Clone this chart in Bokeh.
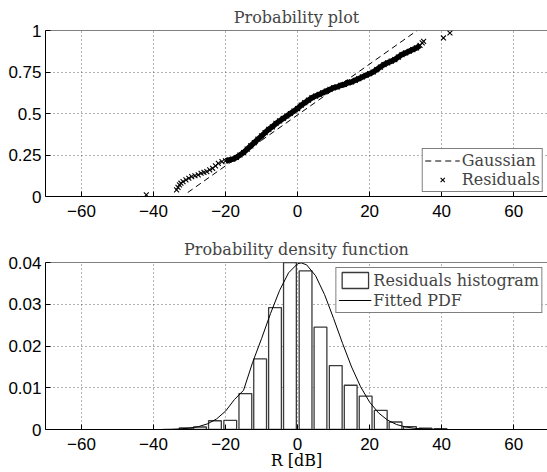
from bokeh.plotting import figure
from bokeh.models import FixedTicker, CustomJSTickFormatter, Span, Range1d
from bokeh.layouts import column
from bokeh.embed import file_html
from bokeh.resources import INLINE

# ---------------- data ----------------
# Probability plot: sorted residuals (dB) vs. empirical probability
res_x = [-42.0, -33.6, -33.2, -32.8, -32.4, -31.8, -31.0, -30.2, -29.4, -28.5,
         -27.6, -26.8, -26.0, -25.2, -24.4, -23.6, -22.8, -22.0, -21.0, -20.0,
         -19.0, -18.0, -17.0, -16.0, -15.0, -14.0, -13.0, -12.0, -11.0, -10.0,
         -9.0, -8.0, -7.0, -6.0, -5.0, -4.0, -3.0, -2.0, -1.0, 0.0,
         1.0, 2.0, 3.0, 4.0, 5.0, 6.0, 7.0, 8.0, 9.0, 10.0,
         11.0, 12.0, 13.0, 14.0, 15.0, 16.0, 17.0, 18.0, 19.0, 20.0,
         21.0, 22.0, 23.0, 24.0, 25.0, 26.0, 27.0, 28.0, 29.0, 30.0,
         31.0, 32.0, 33.0, 34.0, 34.6, 35.0, 40.5, 42.3]
res_y = [0.010, 0.040, 0.055, 0.070, 0.080, 0.090, 0.100, 0.110, 0.120, 0.125,
         0.130, 0.140, 0.145, 0.150, 0.160, 0.170, 0.185, 0.200, 0.210, 0.215,
         0.220, 0.225, 0.235, 0.250, 0.265, 0.285, 0.305, 0.325, 0.345, 0.365,
         0.385, 0.405, 0.420, 0.440, 0.455, 0.470, 0.485, 0.500, 0.515, 0.530,
         0.550, 0.565, 0.580, 0.595, 0.605, 0.615, 0.625, 0.635, 0.645, 0.655,
         0.660, 0.670, 0.675, 0.685, 0.690, 0.700, 0.710, 0.720, 0.730, 0.740,
         0.750, 0.765, 0.780, 0.795, 0.805, 0.815, 0.825, 0.840, 0.855, 0.865,
         0.875, 0.885, 0.895, 0.910, 0.925, 0.935, 0.955, 0.985]
gauss_x = [-30.5, 33.2]
gauss_y = [0.024, 1.0]

# Histogram of residuals (bin centres in dB, density)
hist_centers = [-31.05, -27.1, -22.95, -18.7, -14.5, -10.4, -6.27, -2.12, 2.22,
                6.36, 10.6, 14.75, 18.9, 23.1, 27.2, 31.2, 35.5, 39.7]
hist_heights = [0.0004, 0.0006, 0.0021, 0.0022, 0.0086, 0.0169, 0.0292, 0.043,
                0.0380, 0.0245, 0.0153, 0.0106, 0.0080, 0.0046, 0.0018, 0.0007,
                0.0003, 0.0002]

# Fitted PDF
pdf_x = [-37.5, -35, -32.5, -30, -27.5, -25, -22.5, -20, -17.5, -15, -12.5, -10,
         -7.5, -5, -2.5, 0, 1, 2.5, 5, 7.5, 10, 12.5, 15, 17.5, 20, 22.5, 25,
         27.5, 30, 32.5, 35, 37.5, 40]
pdf_y = [0.00003, 0.00006, 0.00015, 0.00033, 0.00069, 0.00136, 0.00252, 0.0044,
         0.00721, 0.0094, 0.01604, 0.02178, 0.0278, 0.0333, 0.03753, 0.0397,
         0.0399, 0.03945, 0.03683, 0.0323, 0.0266, 0.0206, 0.01497, 0.01023,
         0.00656, 0.00396, 0.00224, 0.00119, 0.0006, 0.00028, 0.00012, 0.00005,
         0.00002]

x_ticks = [-60, -40, -20, 0, 20, 40, 60]
y1_ticks = [0, 0.25, 0.5, 0.75, 1]
y2_ticks = [0, 0.01, 0.02, 0.03, 0.04]

SERIF = "DejaVu Serif"
SANS = "Liberation Sans"
fmt_code = "return String(tick).replace('-', '\\u2212');"
X_END = 69.4


def style(p, yticks, ytop, standoff):
    p.outline_line_color = None
    p.background_fill_color = "white"
    p.xaxis.ticker = FixedTicker(ticks=x_ticks)
    p.yaxis.ticker = FixedTicker(ticks=yticks)
    for ax in (p.xaxis[0], p.yaxis[0]):
        ax.formatter = CustomJSTickFormatter(code=fmt_code)
        ax.major_tick_in = 5
        ax.major_tick_out = 0
        ax.minor_tick_line_color = None
        ax.axis_line_color = "black"
        ax.major_tick_line_color = "black"
        ax.major_label_text_font = SANS
        ax.major_label_text_font_size = "17px"
        ax.major_label_text_color = "black"
    p.xaxis.major_label_standoff = 8
    p.yaxis.major_label_standoff = 4
    for g in (p.xgrid[0], p.ygrid[0]):
        g.grid_line_color = "#666666"
        g.grid_line_dash = "1 3"
        g.grid_line_width = 1
    p.add_layout(Span(location=ytop, dimension="width", line_color="black", line_width=1))
    p.title.align = "center"
    p.title.vertical_align = "top"
    p.title.text_font = SERIF
    p.title.text_font_size = "16px"
    p.title.text_font_style = "normal"
    p.title.standoff = standoff


def style_legend(lg, row_h, gw):
    lg.label_text_font = SERIF
    lg.label_text_font_size = "16px"
    lg.label_height = row_h
    lg.glyph_height = row_h
    lg.glyph_width = gw
    lg.label_standoff = 2
    lg.padding = 2
    lg.spacing = 0
    lg.border_line_color = "black"
    lg.border_line_width = 1.3
    lg.background_fill_alpha = 1


# ---------------- top plot ----------------
p1 = figure(width=547, height=230, x_range=Range1d(-70, X_END), y_range=Range1d(0, 1),
            output_backend="svg", toolbar_location=None, title="Probability plot",
            min_border_left=45, min_border_right=0, min_border_top=30, min_border_bottom=34)
style(p1, y1_ticks, 1, 4)
p1.line(gauss_x, gauss_y, line_color="black", line_width=1, line_dash="6 4",
        legend_label="Gaussian")
# dense band of overlapping markers in the middle of the distribution
p1.line(res_x[19:74], res_y[19:74], line_color="black", line_width=5.5)
p1.scatter(res_x, res_y, marker="x", size=7, line_color="black", line_width=1.1,
           legend_label="Residuals")
style_legend(p1.legend[0], 15, 35)
p1.legend.location = "bottom_right"
p1.legend.margin = 4

# ---------------- bottom plot ----------------
p2 = figure(width=547, height=242, x_range=Range1d(-70, X_END), y_range=Range1d(0, 0.04),
            output_backend="svg", toolbar_location=None, title="Probability density function",
            min_border_left=45, min_border_right=0, min_border_top=32, min_border_bottom=43)
style(p2, y2_ticks, 0.04, 4)
p2.vbar(x=hist_centers, top=hist_heights, width=3.55, bottom=0, fill_color="white",
        line_color="#3a3a3a", line_width=1.3, legend_label="Residuals histogram")
p2.line(pdf_x, pdf_y, line_color="black", line_width=1, legend_label="Fitted PDF")
style_legend(p2.legend[0], 20, 33)
p2.legend.location = "top_right"
p2.legend.margin = 5
p2.xaxis.axis_label = "R [dB]"
p2.xaxis.axis_label_text_font = SERIF
p2.xaxis.axis_label_text_font_size = "16px"
p2.xaxis.axis_label_text_font_style = "normal"
p2.xaxis.axis_label_text_color = "black"
p2.xaxis.axis_label_standoff = -2

layout = column(p1, p2)
open("out.html", "w").write(file_html(layout, INLINE))
